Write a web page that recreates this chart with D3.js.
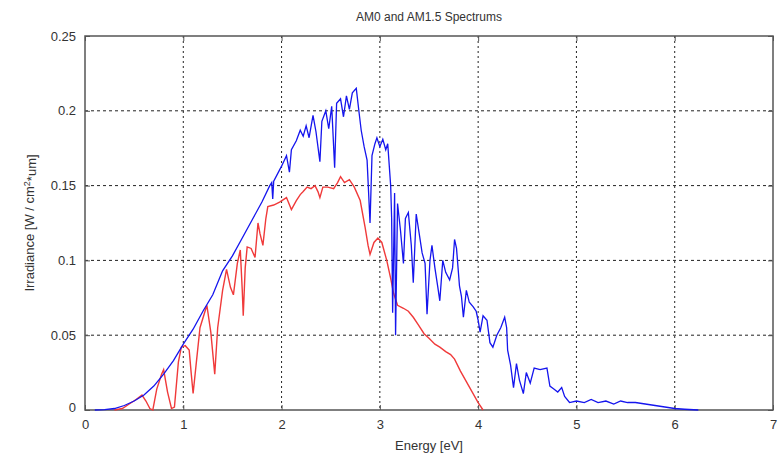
<!DOCTYPE html>
<html>
<head>
<meta charset="utf-8">
<script src="https://cdn.jsdelivr.net/npm/d3@7"></script>
<style>
  body { margin: 0; background: #fff; }
  text { font-family: "Liberation Sans", Arial, sans-serif; fill: #333; }
</style>
</head>
<body>
<div id="chart"></div>
<script>
// data
const am0Energy = [0.10,0.20,0.30,0.40,0.50,0.60,0.70,0.80,0.90,1.00,1.10,1.20,1.30,1.40,1.50,1.60,1.70,1.80,1.88,1.90,1.91,1.92,2.00,2.05,2.08,2.10,2.15,2.19,2.22,2.25,2.28,2.32,2.35,2.39,2.41,2.45,2.48,2.51,2.54,2.56,2.60,2.63,2.66,2.69,2.72,2.76,2.79,2.81,2.84,2.87,2.90,2.92,2.95,2.97,3.00,3.03,3.06,3.08,3.11,3.12,3.13,3.15,3.16,3.18,3.21,3.24,3.26,3.29,3.32,3.34,3.37,3.40,3.43,3.46,3.48,3.51,3.53,3.56,3.59,3.61,3.64,3.67,3.71,3.74,3.76,3.78,3.81,3.83,3.85,3.88,3.91,3.95,3.98,4.00,4.02,4.05,4.09,4.12,4.15,4.19,4.23,4.27,4.29,4.30,4.33,4.36,4.39,4.42,4.46,4.49,4.53,4.57,4.63,4.70,4.73,4.77,4.81,4.85,4.88,4.93,5.00,5.08,5.15,5.22,5.30,5.38,5.45,5.52,5.60,5.70,5.80,5.90,6.00,6.10,6.24];
const am0Irr = [0,0.0003,0.001,0.003,0.006,0.010,0.016,0.024,0.033,0.044,0.054,0.066,0.077,0.093,0.103,0.115,0.127,0.139,0.150,0.152,0.141,0.153,0.163,0.170,0.159,0.174,0.180,0.187,0.183,0.190,0.182,0.197,0.186,0.166,0.193,0.200,0.188,0.203,0.162,0.205,0.208,0.196,0.210,0.201,0.212,0.215,0.198,0.187,0.176,0.167,0.125,0.170,0.178,0.182,0.176,0.181,0.174,0.178,0.150,0.128,0.065,0.145,0.050,0.138,0.120,0.098,0.128,0.132,0.110,0.085,0.131,0.118,0.105,0.098,0.064,0.100,0.110,0.095,0.082,0.073,0.100,0.092,0.087,0.095,0.114,0.108,0.083,0.076,0.062,0.080,0.072,0.069,0.066,0.060,0.052,0.063,0.060,0.045,0.042,0.050,0.055,0.062,0.055,0.040,0.030,0.015,0.031,0.020,0.011,0.025,0.018,0.028,0.027,0.028,0.016,0.014,0.012,0.015,0.009,0.005,0.006,0.005,0.007,0.005,0.006,0.004,0.006,0.005,0.005,0.004,0.003,0.002,0.001,0.0005,0];

const am15Energy = [0.30,0.38,0.45,0.52,0.58,0.62,0.66,0.69,0.73,0.78,0.80,0.84,0.88,0.91,0.95,0.98,1.02,1.06,1.08,1.10,1.13,1.17,1.24,1.28,1.32,1.35,1.40,1.44,1.48,1.51,1.55,1.58,1.60,1.61,1.63,1.65,1.69,1.73,1.76,1.78,1.81,1.84,1.86,1.92,1.98,2.05,2.10,2.15,2.19,2.22,2.26,2.30,2.34,2.37,2.39,2.42,2.47,2.53,2.57,2.60,2.64,2.69,2.74,2.80,2.85,2.88,2.90,2.94,2.98,3.02,3.07,3.11,3.14,3.18,3.24,3.29,3.34,3.39,3.45,3.50,3.56,3.61,3.67,3.72,3.76,3.82,3.88,3.94,4.00,4.05];
const am15Irr = [0,0.001,0.004,0.007,0.010,0.006,0.001,0,0.014,0.024,0.027,0.012,0.001,0.002,0.032,0.042,0.043,0.040,0.025,0.011,0.030,0.055,0.070,0.052,0.024,0.055,0.080,0.094,0.082,0.077,0.098,0.107,0.080,0.063,0.095,0.109,0.108,0.102,0.125,0.118,0.110,0.128,0.136,0.137,0.139,0.142,0.134,0.140,0.144,0.146,0.149,0.148,0.150,0.146,0.142,0.149,0.149,0.148,0.152,0.156,0.152,0.154,0.149,0.140,0.122,0.110,0.104,0.112,0.115,0.112,0.100,0.088,0.078,0.070,0.068,0.066,0.062,0.057,0.051,0.048,0.044,0.042,0.039,0.037,0.034,0.026,0.019,0.012,0.005,0];

const xTicks = [0,1,2,3,4,5,6,7];
const yTicks = [0,0.05,0.1,0.15,0.2,0.25];

// size
const W = 779, H = 457;
const margin = { top: 36, right: 6, bottom: 47, left: 85 };
const width = W - margin.left - margin.right;
const height = H - margin.top - margin.bottom;

const svg = d3.select("#chart")
  .append("svg")
  .attr("width", W)
  .attr("height", H);

const g = svg.append("g")
  .attr("transform", `translate(${margin.left}, ${margin.top})`);

const xScale = d3.scaleLinear().domain([0, 7]).range([0, width]);
const yScale = d3.scaleLinear().domain([0, 0.25]).range([height, 0]);

// grid
g.append("g")
  .selectAll("line")
  .data(xTicks.slice(1, -1))
  .join("line")
  .attr("x1", d => xScale(d)).attr("x2", d => xScale(d))
  .attr("y1", 0).attr("y2", height)
  .attr("stroke", "#222").attr("stroke-width", 1)
  .attr("stroke-dasharray", "2,3");

g.append("g")
  .selectAll("line")
  .data(yTicks.slice(1, -1))
  .join("line")
  .attr("x1", 0).attr("x2", width)
  .attr("y1", d => yScale(d)).attr("y2", d => yScale(d))
  .attr("stroke", "#222").attr("stroke-width", 1)
  .attr("stroke-dasharray", "3,3");

// axes (ticks inside, like matlab)
const fmtY = d => d === 0 ? "0" : String(d);
const xAxis = g.append("g")
  .attr("transform", `translate(0, ${height})`)
  .call(d3.axisBottom(xScale).tickValues(xTicks).tickSizeInner(-5).tickSizeOuter(0).tickPadding(10).tickFormat(d3.format("d")));
const yAxis = g.append("g")
  .call(d3.axisLeft(yScale).tickValues(yTicks).tickSizeInner(-5).tickSizeOuter(0).tickPadding(9).tickFormat(fmtY));
g.append("g")
  .call(d3.axisTop(xScale).tickValues(xTicks).tickSizeInner(-5).tickSizeOuter(0).tickFormat(""));
g.append("g")
  .attr("transform", `translate(${width}, 0)`)
  .call(d3.axisRight(yScale).tickValues(yTicks).tickSizeInner(-5).tickSizeOuter(0).tickFormat(""));

g.selectAll(".domain").remove();
g.selectAll(".tick line").attr("stroke", "#555");
g.selectAll(".tick text").attr("font-size", "13px").attr("fill", "#333");
// the "0" of y sits a bit low like the original
yAxis.selectAll(".tick text").filter(d => d === 0).attr("dy", "0.1em");

// box
g.append("rect")
  .attr("width", width).attr("height", height)
  .attr("fill", "none").attr("stroke", "#555").attr("stroke-width", 1.5);

// curves
const line = d3.line()
  .x(d => xScale(d[0]))
  .y(d => yScale(d[1]));

g.append("path")
  .datum(am15Energy.map((e, i) => [e, am15Irr[i]]))
  .attr("d", line)
  .attr("fill", "none")
  .attr("stroke", "#f03a3a")
  .attr("stroke-width", 1.4);

g.append("path")
  .datum(am0Energy.map((e, i) => [e, am0Irr[i]]))
  .attr("d", line)
  .attr("fill", "none")
  .attr("stroke", "#1515ee")
  .attr("stroke-width", 1.3);

// labels
svg.append("text")
  .attr("x", margin.left + width / 2).attr("y", 21)
  .attr("text-anchor", "middle")
  .attr("font-size", "12px")
  .text("AM0 and AM1.5 Spectrums");

svg.append("text")
  .attr("x", margin.left + width / 2).attr("y", 450)
  .attr("text-anchor", "middle")
  .attr("font-size", "13px")
  .text("Energy [eV]");

const yl = svg.append("text")
  .attr("transform", `translate(34, ${margin.top + height / 2}) rotate(-90)`)
  .attr("text-anchor", "middle")
  .attr("font-size", "13px");
yl.append("tspan").text("Irradiance [W / cm");
yl.append("tspan").attr("dy", "-0.4em").attr("font-size", "9px").text("2");
yl.append("tspan").attr("dy", "0.4em").text("*um]");
</script>
</body>
</html>
